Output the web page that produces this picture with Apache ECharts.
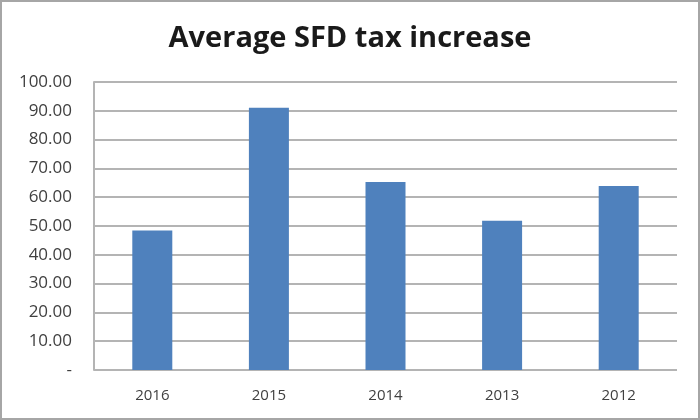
<!DOCTYPE html>
<html>
<head>
	<meta charset="utf-8"/>
	<title>Average SFD tax increase</title>
	<script src="https://cdn.jsdelivr.net/npm/echarts@6/dist/echarts.min.js"></script>
</head>
<body style="margin: 0; background: #fff;">

	<div id="chart" style="width: 700px; height: 420px; box-sizing: border-box; border: 2px solid #a6a6a6; background: #fff;"></div>

	<script>
		var years = ['2016', '2015', '2014', '2013', '2012'];
		var taxIncrease = [48.4, 91.1, 65.3, 51.8, 63.9];
		var yTicks = [0, 10, 20, 30, 40, 50, 60, 70, 80, 90, 100];

		var myChart = echarts.init(document.getElementById('chart'));

		var option = {
			title: {
				text: 'Average SFD tax increase',
				left: 'center',
				top: 17,
				textStyle: {
					fontFamily: 'Open Sans',
					fontWeight: 'bold',
					fontSize: 29,
					color: '#1a1a1a'
				}
			},
			grid: {
				left: 92,
				right: 21,
				top: 80,
				bottom: 48
			},
			xAxis: {
				type: 'category',
				data: years,
				axisLine: { show: false },
				axisTick: { show: false },
				axisLabel: {
					margin: 18,
					fontFamily: 'Open Sans',
					fontSize: 15,
					color: '#404040'
				}
			},
			yAxis: {
				type: 'value',
				min: yTicks[0],
				max: yTicks[yTicks.length - 1],
				interval: 10,
				axisLine: { show: true, lineStyle: { color: '#b4b4b4', width: 2 } },
				axisTick: { show: false },
				splitLine: { lineStyle: { color: '#b4b4b4', width: 2 } },
				axisLabel: {
					margin: 22,
					fontFamily: 'Open Sans',
					fontSize: 17,
					color: '#404040',
					formatter: function (v) {
						return v === 0 ? '-' : v.toFixed(2); // Excel shows zero as a dash
					}
				}
			},
			series: [
				{
					type: 'bar',
					data: taxIncrease,
					barWidth: 40,
					itemStyle: { color: '#4f81bd' }
				}
			]
		};

		myChart.setOption(option);
	</script>
</body>
</html>
